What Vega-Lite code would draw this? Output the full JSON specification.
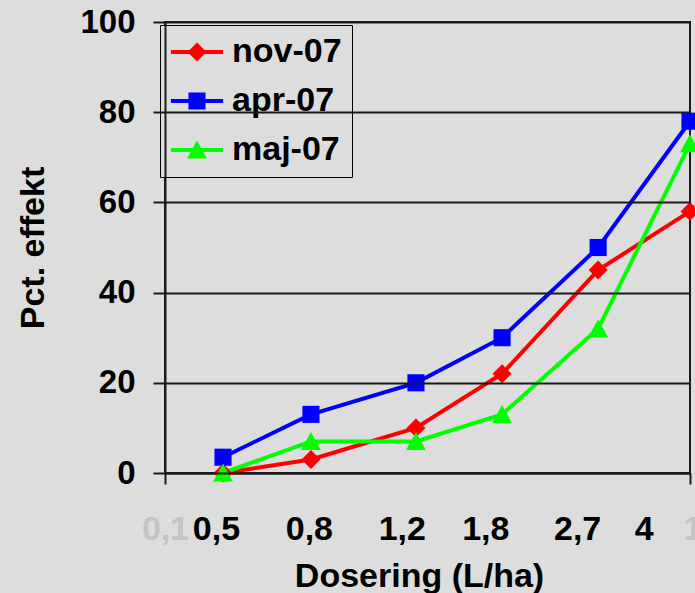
{
  "$schema": "https://vega.github.io/schema/vega-lite/v6.json",
  "autosize": {"type": "none"},
  "width": 525,
  "height": 451,
  "padding": {"left": 165, "top": 22, "right": 5, "bottom": 120},
  "background": "#dddddd",
  "config": {
    "font": "Liberation Sans",
    "view": {"stroke": "#1a1a1a", "strokeWidth": 2},
    "axis": {
      "labelFont": "Liberation Sans",
      "labelFontWeight": "bold",
      "labelColor": "#000000",
      "titleFont": "Liberation Sans",
      "titleFontWeight": "bold",
      "titleColor": "#000000",
      "domainColor": "#1a1a1a",
      "domainWidth": 2,
      "tickColor": "#1a1a1a",
      "tickWidth": 2,
      "gridColor": "#1a1a1a",
      "gridWidth": 2,
      "gridOpacity": 1,
      "labelFlush": false,
      "labelOverlap": false,
      "labelBound": false
    },
    "legend": {
      "labelFont": "Liberation Sans"
    }
  },
  "datasets": {
    "effekt": [
      {"serie": "nov-07", "dosis": "0,5", "pos": 11.05, "effekt": 0},
      {"serie": "nov-07", "dosis": "0,8", "pos": 27.8, "effekt": 3},
      {"serie": "nov-07", "dosis": "1,2", "pos": 47.8, "effekt": 10},
      {"serie": "nov-07", "dosis": "1,8", "pos": 64.2, "effekt": 22},
      {"serie": "nov-07", "dosis": "2,7", "pos": 82.5, "effekt": 45},
      {"serie": "nov-07", "dosis": "4", "pos": 100, "effekt": 58},
      {"serie": "apr-07", "dosis": "0,5", "pos": 11.05, "effekt": 3.5},
      {"serie": "apr-07", "dosis": "0,8", "pos": 27.8, "effekt": 13},
      {"serie": "apr-07", "dosis": "1,2", "pos": 47.8, "effekt": 20},
      {"serie": "apr-07", "dosis": "1,8", "pos": 64.2, "effekt": 30},
      {"serie": "apr-07", "dosis": "2,7", "pos": 82.5, "effekt": 50},
      {"serie": "apr-07", "dosis": "4", "pos": 100, "effekt": 78},
      {"serie": "maj-07", "dosis": "0,5", "pos": 11.05, "effekt": 0},
      {"serie": "maj-07", "dosis": "0,8", "pos": 27.8, "effekt": 7},
      {"serie": "maj-07", "dosis": "1,2", "pos": 47.8, "effekt": 7},
      {"serie": "maj-07", "dosis": "1,8", "pos": 64.2, "effekt": 13},
      {"serie": "maj-07", "dosis": "2,7", "pos": 82.5, "effekt": 32},
      {"serie": "maj-07", "dosis": "4", "pos": 100, "effekt": 73}
    ]
  },
  "data": {"name": "effekt"},
  "encoding": {
    "x": {
      "field": "pos",
      "type": "quantitative",
      "scale": {"domain": [0, 100], "nice": false, "zero": false},
      "axis": {
        "title": "Dosering (L/ha)",
        "titleFontSize": 34,
        "titleX": 254,
        "titleY": 113,
        "titleBaseline": "alphabetic",
        "grid": false,
        "values": [0, 9.7, 27.4, 45.1, 61.0, 78.5, 91.2, 100],
        "labelExpr": "datum.value == 0 ? '0,1' : datum.value == 9.7 ? '0,5' : datum.value == 27.4 ? '0,8' : datum.value == 45.1 ? '1,2' : datum.value == 61 ? '1,8' : datum.value == 78.5 ? '2,7' : datum.value == 91.2 ? '4' : '10'",
        "labelFontSize": 34,
        "labelPadding": 28,
        "labelColor": {"expr": "datum.value == 0 || datum.value == 100 ? '#c4c4c4' : '#000000'"},
        "labelOffset": {"expr": "datum.value == 100 ? 12 : 0"},
        "tickSize": 11,
        "tickColor": {"expr": "datum.value == 0 || datum.value == 100 ? '#1a1a1a' : 'transparent'"}
      }
    },
    "y": {
      "field": "effekt",
      "type": "quantitative",
      "scale": {"domain": [0, 100], "nice": false},
      "axis": {
        "title": "Pct. effekt",
        "titleFontSize": 34,
        "titleX": -122,
        "titleBaseline": "alphabetic",
        "values": [0, 20, 40, 60, 80, 100],
        "labelFontSize": 33,
        "labelPadding": 18,
        "tickSize": 12,
        "zindex": 1
      }
    }
  },
  "layer": [
    {
      "mark": {"type": "line", "strokeWidth": 4},
      "encoding": {
        "color": {
          "field": "serie",
          "type": "nominal",
          "scale": {"domain": ["nov-07", "apr-07", "maj-07"], "range": ["#ff0000", "#0000ff", "#00ff00"]},
          "legend": null
        }
      }
    },
    {
      "mark": {"type": "point", "filled": true, "opacity": 1, "size": 324},
      "encoding": {
        "color": {
          "field": "serie",
          "type": "nominal",
          "scale": {"domain": ["nov-07", "apr-07", "maj-07"], "range": ["#ff0000", "#0000ff", "#00ff00"]},
          "legend": null
        },
        "shape": {
          "field": "serie",
          "type": "nominal",
          "scale": {
            "domain": ["nov-07", "apr-07", "maj-07"],
            "range": [
              "M0,-1.05L1.05,0L0,1.05L-1.05,0Z",
              "M-0.95,-0.95H0.95V0.95H-0.95Z",
              "M0,-1.05L1.1,0.95H-1.1Z"
            ]
          },
          "legend": null
        }
      }
    },
    {
      "transform": [{"filter": "datum.serie == 'ingen'"}],
      "mark": {"type": "point", "filled": true, "opacity": 1, "size": 324},
      "encoding": {
        "color": {
          "field": "serie",
          "type": "nominal",
          "scale": {"domain": ["nov-07", "apr-07", "maj-07"], "range": ["#ff0000", "#0000ff", "#00ff00"]},
          "legend": {
            "title": null,
            "orient": "none",
            "legendX": -5,
            "legendY": 3,
            "padding": 10,
            "strokeColor": "#000000",
            "fillColor": "#dddddd",
            "symbolSize": 324,
            "symbolStrokeWidth": 0,
            "symbolOffset": 10,
            "labelOffset": 18,
            "labelFontSize": 34,
            "labelFontWeight": "bold",
            "labelColor": "#000000",
            "rowPadding": 15
          }
        },
        "shape": {
          "field": "serie",
          "type": "nominal",
          "scale": {
            "domain": ["nov-07", "apr-07", "maj-07"],
            "range": [
              "M-2.9,-0.22H2.9V0.22H-2.9Z M0,-1.05L1.05,0L0,1.05L-1.05,0Z",
              "M-2.9,-0.22H2.9V0.22H-2.9Z M-0.95,-0.95H0.95V0.95H-0.95Z",
              "M-2.9,-0.22H2.9V0.22H-2.9Z M0,-1.05L1.1,0.95H-1.1Z"
            ]
          },
          "legend": {
            "title": null,
            "orient": "none",
            "legendX": -5,
            "legendY": 3,
            "padding": 10,
            "strokeColor": "#000000",
            "fillColor": "#dddddd",
            "symbolSize": 324,
            "symbolStrokeWidth": 0,
            "symbolOffset": 10,
            "labelOffset": 18,
            "labelFontSize": 34,
            "labelFontWeight": "bold",
            "labelColor": "#000000",
            "rowPadding": 15
          }
        }
      }
    }
  ],
  "resolve": {"scale": {"color": "independent", "shape": "independent"}}
}
